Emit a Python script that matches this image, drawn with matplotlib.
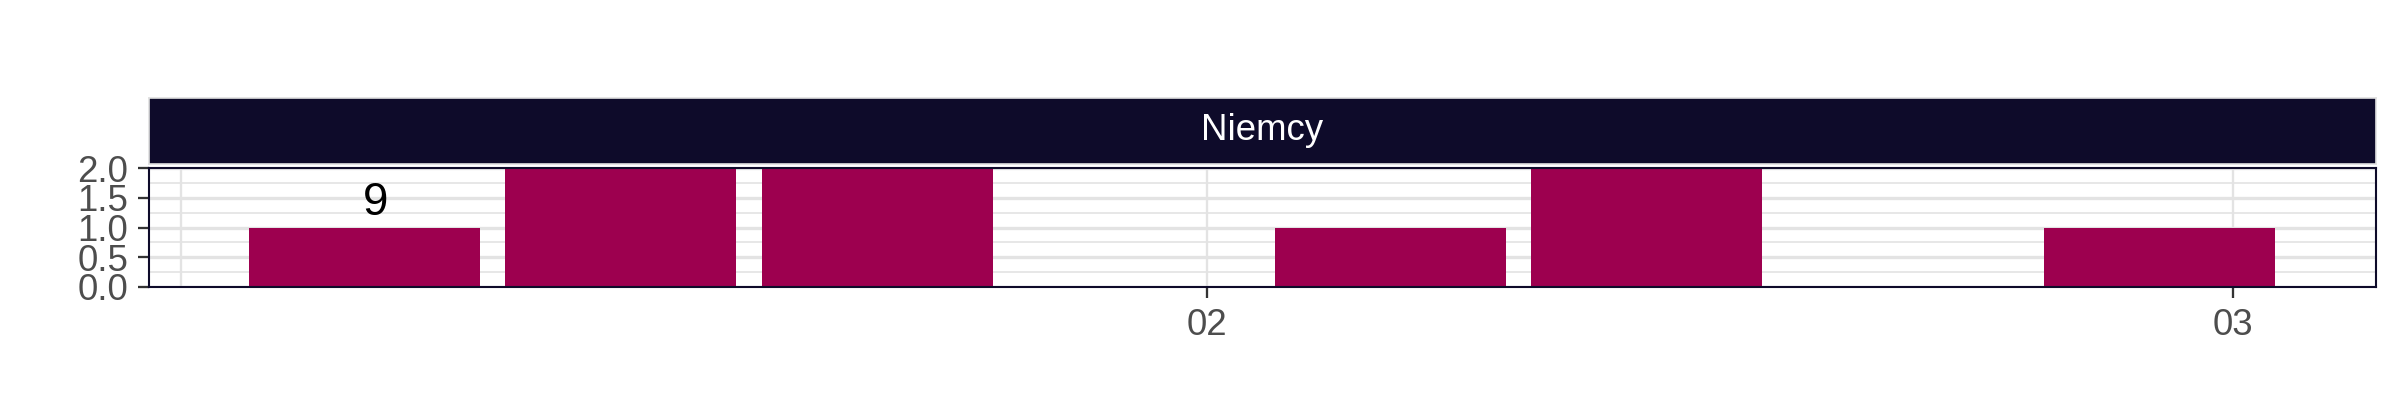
import matplotlib
matplotlib.use("Agg")
import matplotlib.pyplot as plt
import matplotlib.dates as mdates
import numpy as np
import datetime as dt

# ---- data ----
facet_label = "Niemcy"
week_starts = ["2021-01-09", "2021-01-16", "2021-01-23", "2021-01-30",
               "2021-02-06", "2021-02-13", "2021-02-20", "2021-02-27"]
counts = [1, 2, 2, 0, 1, 2, 0, 1]
x_tick_dates = ["2021-02-01", "2021-03-01"]
x_tick_labels = ["02", "03"]
extra_vgrid = ["2021-01-04"]
y_ticks = [0.0, 0.5, 1.0, 1.5, 2.0]
y_minor = [0.25, 0.75, 1.25, 1.75]
total_label = str(sum(counts))

plt.rcParams['font.family'] = ['Liberation Sans', 'DejaVu Sans']

bar_color = "#9D004F"
navy = "#0E0B2A"
grid_col = "#E3E3E3"
tick_txt = "#4D4D4D"

fig = plt.figure(figsize=(8, 1.4), dpi=300)
L, R = 149/2400, 2376/2400
B, T = 1 - 287/420, 1 - 168/420
ax = fig.add_axes([L, B, R - L, T - B])

dates = [mdates.date2num(dt.datetime.fromisoformat(d)) for d in week_starts]
width = 7 * 0.9
ax.bar(dates, counts, width=width, color=bar_color, linewidth=0, zorder=2)

feb1 = mdates.date2num(dt.datetime(2021, 2, 1))
ax.set_xlim(feb1 - 28.875, feb1 + 31.9)
ax.set_ylim(0, 2)

# grid
for y in y_ticks:
    ax.axhline(y, color=grid_col, lw=0.8, zorder=0)
for y in y_minor:
    ax.axhline(y, color=grid_col, lw=0.4, zorder=0)
for d in x_tick_dates + extra_vgrid:
    ax.axvline(mdates.date2num(dt.datetime.fromisoformat(d)), color=grid_col, lw=0.55, zorder=0)

ax.set_xticks([mdates.date2num(dt.datetime.fromisoformat(d)) for d in x_tick_dates])
ax.set_xticklabels(x_tick_labels)
ax.set_yticks(y_ticks)
ax.set_yticklabels([f"{v:.1f}" for v in y_ticks])
ax.tick_params(axis='both', colors="#333333", labelcolor=tick_txt, labelsize=8.8,
               length=2.75, width=0.55, pad=2.2)

for s in ax.spines.values():
    s.set_color(navy)
    s.set_linewidth(0.5)
    s.set_zorder(3)

ax.text(dates[0] + 0.3, 1.42, total_label, ha='center', va='center', fontsize=11, color='black', zorder=4)

# strip
sB, sT = 1 - 164/420, 1 - 98/420
sax = fig.add_axes([L, sB, R - L, sT - sB])
sax.set_xticks([]); sax.set_yticks([])
sax.set_facecolor(navy)
for s in sax.spines.values():
    s.set_color("#E0E0E0")
    s.set_linewidth(0.4)
sax.text(0.5, 0.5, facet_label, ha='center', va='center', color='white', fontsize=8.8,
         transform=sax.transAxes)

fig.savefig("out.png", dpi=300, facecolor='white')
